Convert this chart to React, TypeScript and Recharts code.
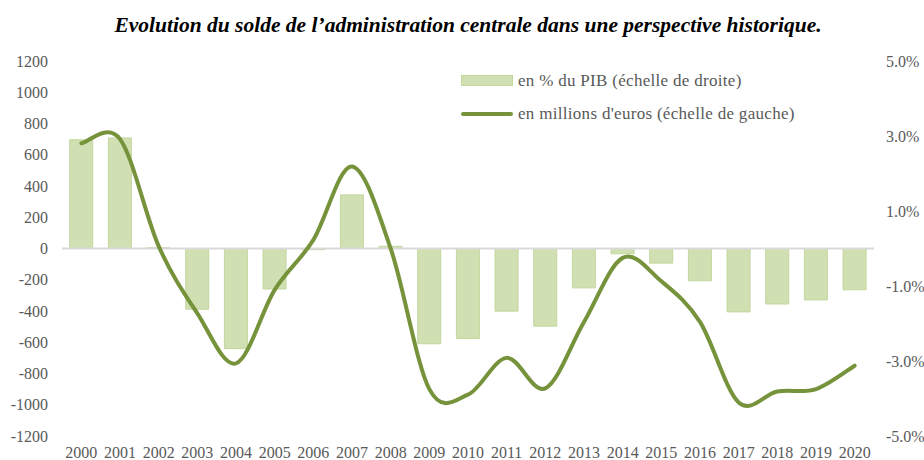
import {
  ComposedChart,
  Bar,
  Line,
  XAxis,
  YAxis,
  ReferenceLine,
  Legend,
} from "recharts";

const YEARS = [
  "2000", "2001", "2002", "2003", "2004", "2005", "2006", "2007", "2008", "2009", "2010",
  "2011", "2012", "2013", "2014", "2015", "2016", "2017", "2018", "2019", "2020",
];
// solde en % du PIB (échelle de droite)
const PCT_PIB = [
  2.9, 2.95, 0.02, -1.62, -2.67, -1.08, -0.03, 1.43, 0.06, -2.54, -2.4,
  -1.67, -2.07, -1.05, -0.14, -0.39, -0.86, -1.69, -1.48, -1.37, -1.1,
];
// solde en millions d'euros (échelle de gauche)
const MILLIONS_EUR = [
  673, 700, 15, -415, -735, -265, 55, 525, 0, -900, -935,
  -700, -895, -470, -60, -210, -470, -985, -915, -900, -750,
];
const LEFT_TICKS = [-1200, -1000, -800, -600, -400, -200, 0, 200, 400, 600, 800, 1000, 1200];
const RIGHT_TICKS = [-5, -3, -1, 1, 3, 5];

const TITLE = "Evolution du solde de l’administration centrale dans une perspective historique.";
const LEGEND_BAR = "en % du PIB (échelle de droite)";
const LEGEND_LINE = "en millions d'euros (échelle de gauche)";

const BAR_FILL = "#d0e0b2";
const BAR_STROKE = "#c3d79d";
const LINE_COLOR = "#76933c";
const TEXT_COLOR = "#595959";
const FONT = "'Liberation Serif', 'Times New Roman', serif";

const data = YEARS.map((year, i) => ({
  year,
  pct: PCT_PIB[i],
  eur: MILLIONS_EUR[i],
}));

// Excel-style smoothed line (Catmull-Rom through the points)
function excelSmooth(context: any) {
  let pts: [number, number][] = [];
  return {
    areaStart() {},
    areaEnd() {},
    lineStart() {
      pts = [];
    },
    point(x: number, y: number) {
      pts.push([+x, +y]);
    },
    lineEnd() {
      if (!pts.length) return;
      context.moveTo(pts[0][0], pts[0][1]);
      for (let i = 0; i < pts.length - 1; i++) {
        const p0 = pts[i - 1] || pts[i];
        const p1 = pts[i];
        const p2 = pts[i + 1];
        const p3 = pts[i + 2] || p2;
        context.bezierCurveTo(
          p1[0] + (p2[0] - p0[0]) / 6,
          p1[1] + (p2[1] - p0[1]) / 6,
          p2[0] - (p3[0] - p1[0]) / 6,
          p2[1] - (p3[1] - p1[1]) / 6,
          p2[0],
          p2[1],
        );
      }
    },
  };
}

function LegendBox() {
  const row = {
    display: "flex",
    alignItems: "center",
    height: 33,
    fontFamily: FONT,
    fontSize: 17,
    letterSpacing: 0.3,
    color: TEXT_COLOR,
    whiteSpace: "nowrap" as const,
  };
  return (
    <div>
      <div style={row}>
        <span
          style={{
            display: "inline-block",
            width: 50,
            height: 9,
            background: BAR_FILL,
            border: `1px solid ${BAR_STROKE}`,
            marginRight: 5,
          }}
        />
        {LEGEND_BAR}
      </div>
      <div style={row}>
        <span
          style={{
            display: "inline-block",
            width: 52,
            height: 4,
            borderRadius: 2,
            background: LINE_COLOR,
            marginRight: 5,
          }}
        />
        {LEGEND_LINE}
      </div>
    </div>
  );
}

const tickStyle = { fill: TEXT_COLOR, fontSize: 16, fontFamily: FONT };

export default function App() {
  return (
    <div style={{ position: "absolute", left: 0, top: 0, width: 924, height: 460, background: "#fff" }}>
      <div
        style={{
          position: "absolute",
          top: 15,
          left: 0,
          width: 936,
          textAlign: "center",
          fontFamily: FONT,
          fontWeight: "bold",
          fontStyle: "italic",
          fontSize: 21.5,
          lineHeight: "21px",
          color: "#000",
          whiteSpace: "nowrap",
        }}
      >
        {TITLE}
      </div>
      <ComposedChart
        width={924}
        height={460}
        data={data}
        margin={{ top: 61, right: 0, bottom: 0, left: 7 }}
        barCategoryGap="20%"
      >
        <XAxis
          dataKey="year"
          axisLine={false}
          tickLine={false}
          height={24}
          tickMargin={5}
          interval={0}
          tick={tickStyle}
        />
        <YAxis
          yAxisId="left"
          orientation="left"
          domain={[-1200, 1200]}
          ticks={LEFT_TICKS}
          interval={0}
          width={55}
          axisLine={false}
          tickLine={false}
          tickMargin={8}
          tick={tickStyle}
        />
        <YAxis
          yAxisId="right"
          orientation="right"
          domain={[-5, 5]}
          ticks={RIGHT_TICKS}
          interval={0}
          width={50}
          axisLine={false}
          tickLine={false}
          tickMargin={6}
          tickFormatter={(v: number) => `${v.toFixed(1)}%`}
          tick={tickStyle}
        />
        <ReferenceLine yAxisId="left" y={0} stroke="#d9d9d9" strokeWidth={2} />
        <Legend
          layout="horizontal"
          verticalAlign="middle"
          align="center"
          content={() => <LegendBox />}
          wrapperStyle={{ position: "absolute", top: 64, left: 461, width: 400 }}
        />
        <Bar
          yAxisId="right"
          dataKey="pct"
          name={LEGEND_BAR}
          fill={BAR_FILL}
          stroke={BAR_STROKE}
          strokeWidth={1}
          isAnimationActive={false}
        />
        <Line
          yAxisId="left"
          dataKey="eur"
          name={LEGEND_LINE}
          type={excelSmooth as any}
          stroke={LINE_COLOR}
          strokeWidth={4}
          strokeLinecap="round"
          dot={false}
          activeDot={false}
          isAnimationActive={false}
        />
      </ComposedChart>
    </div>
  );
}
